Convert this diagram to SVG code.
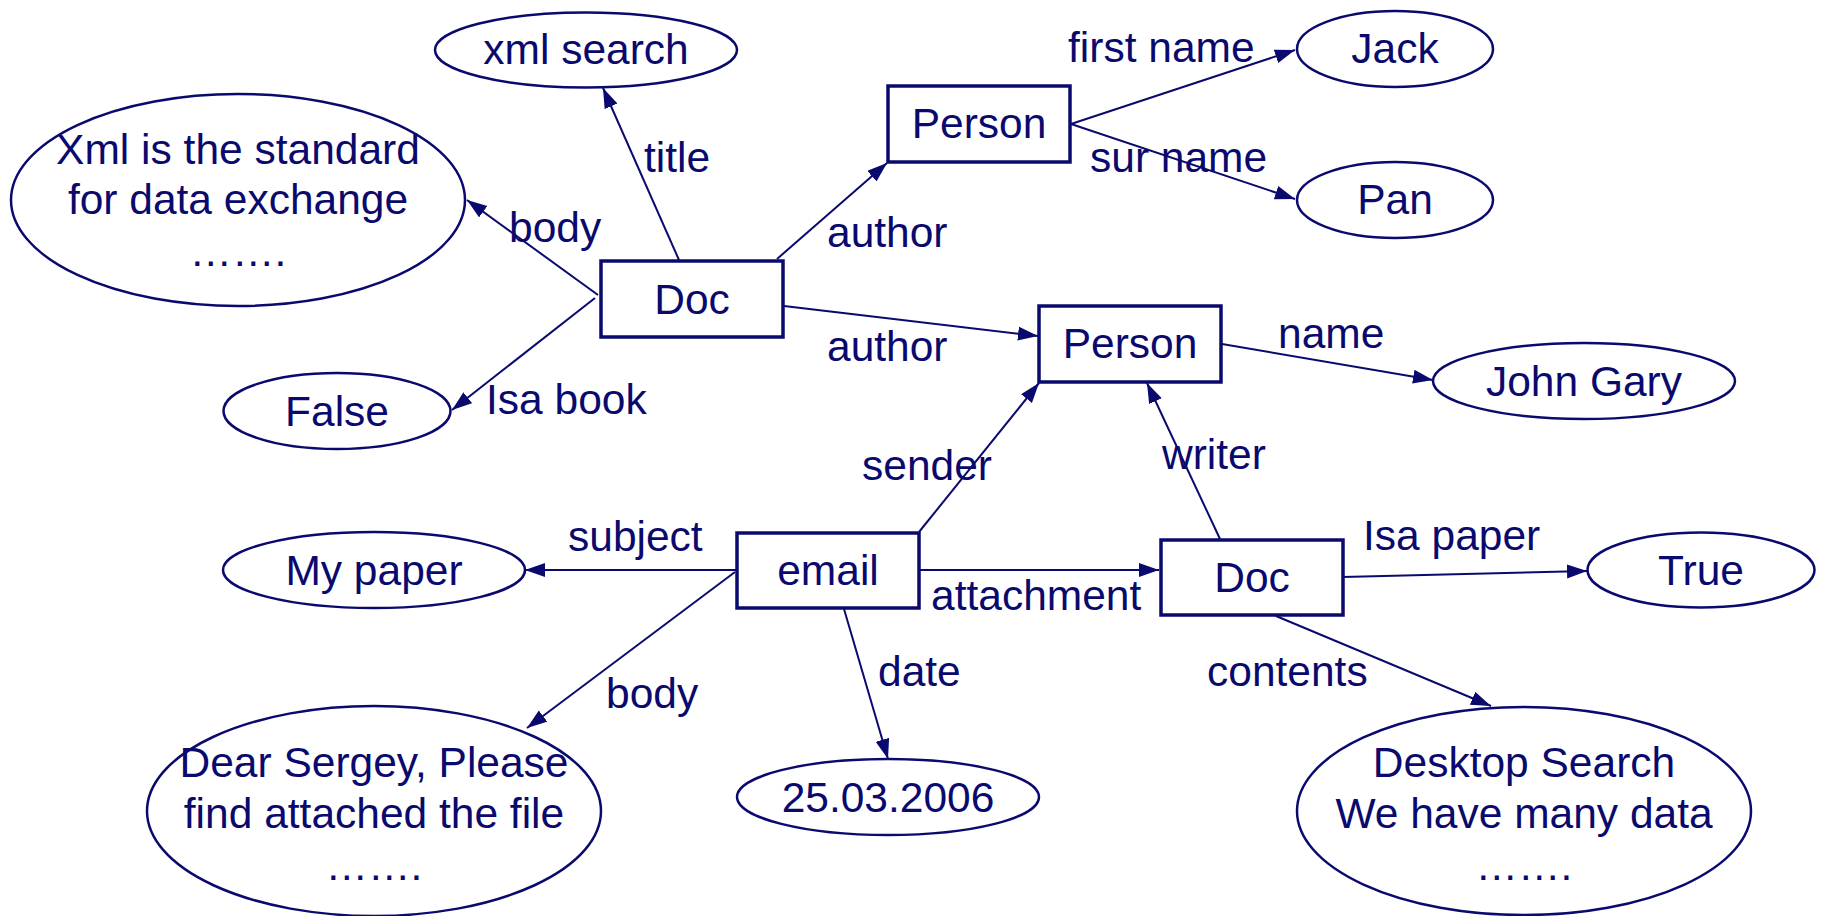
<svg xmlns="http://www.w3.org/2000/svg" width="1822" height="916" viewBox="0 0 1822 916">
<style>
text{font-family:"Liberation Sans",Arial,sans-serif;font-size:42.5px;fill:#0a0a6e}
.c{text-anchor:middle}
.box{fill:#fff;stroke:#0a0a6e;stroke-width:3.5}
.ell{fill:#fff;stroke:#0a0a6e;stroke-width:2.5}
.edge{stroke:#0a0a6e;stroke-width:2;fill:none;marker-end:url(#arr)}
</style>
<defs>
<marker id="arr" markerUnits="userSpaceOnUse" markerWidth="22" markerHeight="16" refX="20" refY="7" orient="auto">
<path d="M0,0 L20,7 L0,14 z" fill="#0a0a6e"/>
</marker>
</defs>
<rect width="1822" height="916" fill="#fff"/>
<g id="edges">
<line class="edge" x1="679" y1="260" x2="603" y2="88"/>
<line class="edge" x1="598" y1="295" x2="467" y2="200"/>
<line class="edge" x1="595" y1="298" x2="452" y2="410"/>
<line class="edge" x1="777" y1="259" x2="887" y2="163"/>
<line class="edge" x1="784" y1="306" x2="1038" y2="336"/>
<line class="edge" x1="1071" y1="124" x2="1295" y2="50"/>
<line class="edge" x1="1071" y1="124" x2="1295" y2="199"/>
<line class="edge" x1="1222" y1="344" x2="1433" y2="380"/>
<line class="edge" x1="919" y1="532" x2="1039" y2="383"/>
<line class="edge" x1="1220" y1="539" x2="1147" y2="383"/>
<line class="edge" x1="736" y1="570" x2="525" y2="570"/>
<line class="edge" x1="735" y1="572" x2="527" y2="728"/>
<line class="edge" x1="844" y1="609" x2="888" y2="759"/>
<line class="edge" x1="919" y1="570" x2="1159" y2="570"/>
<line class="edge" x1="1343" y1="577" x2="1587" y2="571"/>
<line class="edge" x1="1276" y1="616" x2="1491" y2="706"/>
</g>
<g id="labels">
<text x="644" y="172">title</text>
<text x="509" y="242">body</text>
<text x="486" y="414">Isa book</text>
<text x="827" y="247">author</text>
<text x="827" y="361">author</text>
<text x="1068" y="62">first name</text>
<text x="1090" y="172">sur name</text>
<text x="1278" y="348">name</text>
<text x="862" y="480">sender</text>
<text x="1162" y="469">writer</text>
<text x="568" y="551">subject</text>
<text x="931" y="610">attachment</text>
<text x="1363" y="550">Isa paper</text>
<text x="878" y="686">date</text>
<text x="606" y="708">body</text>
<text x="1207" y="686">contents</text>
</g>
<g id="n-xmlsearch"><ellipse class="ell" cx="586" cy="50" rx="151" ry="37.5"/><text class="c" x="586" y="64">xml search</text></g>
<g id="n-xmlbody"><ellipse class="ell" cx="238" cy="200" rx="227" ry="106"/><text class="c" x="238" y="164">Xml is the standard</text><text class="c" x="238" y="214">for data exchange</text><text class="c" x="238" y="266">…….</text></g>
<g id="n-doc1"><rect class="box" x="601" y="261" width="182" height="76"/><text class="c" x="692" y="314">Doc</text></g>
<g id="n-false"><ellipse class="ell" cx="337" cy="411" rx="113.5" ry="38"/><text class="c" x="337" y="426">False</text></g>
<g id="n-person1"><rect class="box" x="888" y="86" width="182" height="76"/><text class="c" x="979" y="138">Person</text></g>
<g id="n-jack"><ellipse class="ell" cx="1395" cy="49" rx="98" ry="38"/><text class="c" x="1395" y="63">Jack</text></g>
<g id="n-pan"><ellipse class="ell" cx="1395" cy="200" rx="98" ry="38"/><text class="c" x="1395" y="214">Pan</text></g>
<g id="n-person2"><rect class="box" x="1039" y="306" width="182" height="76"/><text class="c" x="1130" y="358">Person</text></g>
<g id="n-johngary"><ellipse class="ell" cx="1584" cy="381" rx="151" ry="38"/><text class="c" x="1584" y="396">John Gary</text></g>
<g id="n-email"><rect class="box" x="737" y="533" width="182" height="75"/><text class="c" x="828" y="585">email</text></g>
<g id="n-mypaper"><ellipse class="ell" cx="374" cy="570" rx="151" ry="38"/><text class="c" x="374" y="585">My paper</text></g>
<g id="n-doc2"><rect class="box" x="1161" y="540" width="182" height="75"/><text class="c" x="1252" y="592">Doc</text></g>
<g id="n-true"><ellipse class="ell" cx="1701" cy="570" rx="113.5" ry="37.5"/><text class="c" x="1701" y="585">True</text></g>
<g id="n-emailbody"><ellipse class="ell" cx="374" cy="811" rx="227" ry="105"/><text class="c" x="374" y="777">Dear Sergey, Please</text><text class="c" x="374" y="828">find attached the file</text><text class="c" x="374" y="880">…….</text></g>
<g id="n-date"><ellipse class="ell" cx="888" cy="797" rx="151" ry="38"/><text class="c" x="888" y="812">25.03.2006</text></g>
<g id="n-contents"><ellipse class="ell" cx="1524" cy="811" rx="227" ry="104"/><text class="c" x="1524" y="777">Desktop Search</text><text class="c" x="1524" y="828">We have many data</text><text class="c" x="1524" y="880">…….</text></g>
</svg>
